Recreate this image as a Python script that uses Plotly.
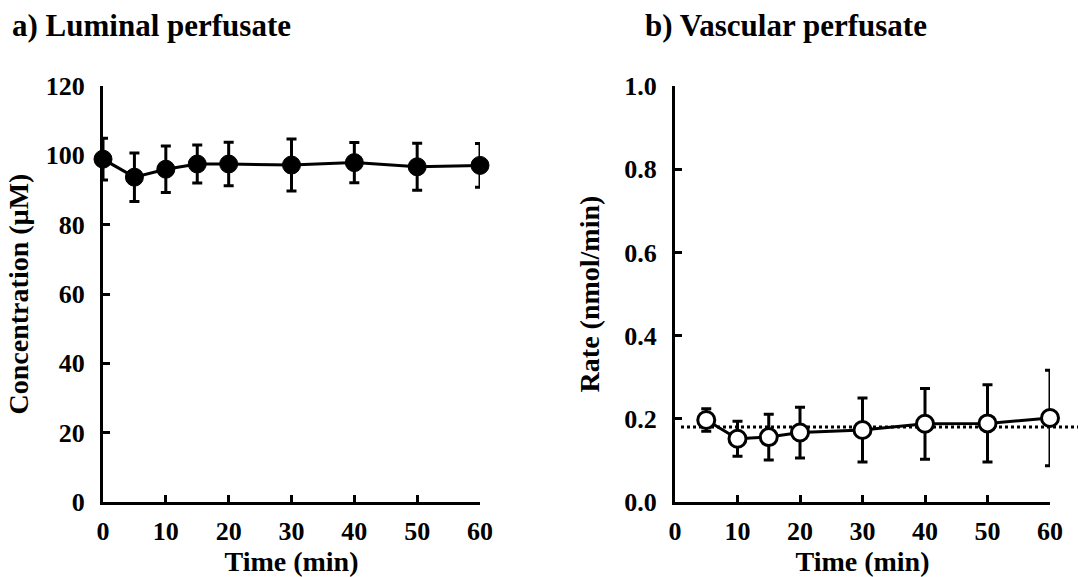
import plotly.graph_objects as go

# ---- data ----
time_lum = [0, 5, 10, 15, 20, 30, 40, 50, 60]
conc_lum = [98.9, 93.7, 96.0, 97.5, 97.5, 97.2, 97.9, 96.7, 97.1]
conc_err = [6.0, 7.0, 6.7, 5.5, 6.3, 7.5, 5.8, 6.8, 6.3]

time_vas = [5, 10, 15, 20, 30, 40, 50, 60]
rate_vas = [0.197, 0.152, 0.156, 0.167, 0.173, 0.188, 0.189, 0.202]
rate_err = [0.027, 0.042, 0.055, 0.061, 0.077, 0.085, 0.093, 0.115]
rate_ref = 0.18

x_ticks = [0, 10, 20, 30, 40, 50, 60]
y1_ticks = [0, 20, 40, 60, 80, 100, 120]
y2_ticks = [0.0, 0.2, 0.4, 0.6, 0.8, 1.0]
y2_labels = ["0.0", "0.2", "0.4", "0.6", "0.8", "1.0"]

W, H = 1078, 577
FONT = "Liberation Serif"

def px_x(a, b):
    return [a / W, b / W]

def px_y(top, bottom):
    return [(H - bottom) / H, (H - top) / H]

fig = go.Figure()

fig.add_trace(go.Scatter(
    x=time_lum, y=conc_lum, mode="lines+markers",
    line=dict(color="black", width=3),
    marker=dict(size=18, color="black", line=dict(color="black", width=1)),
    error_y=dict(type="data", array=conc_err, visible=True, color="black", thickness=3, width=5),
    cliponaxis=False, xaxis="x", yaxis="y", showlegend=False))

fig.add_trace(go.Scatter(
    x=time_vas, y=rate_vas, mode="lines+markers",
    line=dict(color="black", width=3),
    marker=dict(size=17, color="white", line=dict(color="black", width=3)),
    error_y=dict(type="data", array=rate_err, visible=True, color="black", thickness=3, width=5),
    cliponaxis=False, xaxis="x2", yaxis="y2", showlegend=False))

dom_y = px_y(86, 502)
dx1 = px_x(103, 480)
dx2 = px_x(675, 1050)

tickfont = dict(family=FONT, size=26, color="black", weight="bold")
titlefont = dict(family=FONT, size=28, color="black", weight="bold")

common_axis = dict(showline=True, linecolor="black", linewidth=3, ticks="inside",
                   ticklen=7, tickwidth=3, tickcolor="black", showgrid=False,
                   zeroline=False, tickfont=tickfont, mirror=False, automargin=False)

fig.update_layout(
    template="none",
    width=W, height=H, margin=dict(l=0, r=0, t=0, b=0, pad=0),
    plot_bgcolor="white", paper_bgcolor="white",
    xaxis=dict(domain=dx1, range=[0, 60], tickvals=x_ticks, anchor="y", ticklabelstandoff=4,
               title=dict(text="Time (min)", font=titlefont, standoff=6), **common_axis),
    yaxis=dict(domain=dom_y, range=[0, 120], tickvals=y1_ticks, anchor="x", ticklabelstandoff=10,
               title=dict(text="Concentration (µM)", font=titlefont, standoff=9), **common_axis),
    xaxis2=dict(domain=dx2, range=[0, 60], tickvals=x_ticks, anchor="y2", ticklabelstandoff=4,
                title=dict(text="Time (min)", font=titlefont, standoff=6), **common_axis),
    yaxis2=dict(domain=dom_y, range=[0, 1.0], tickvals=y2_ticks, ticktext=y2_labels, anchor="x2",
                ticklabelstandoff=10,
                title=dict(text="Rate (nmol/min)", font=titlefont, standoff=17), **common_axis),
)

# dotted reference line in vascular panel, running to the right edge
fig.add_shape(type="line", xref="paper", yref="y2",
              x0=681 / W, x1=1.0, y0=rate_ref, y1=rate_ref,
              line=dict(color="black", width=3, dash="dot"), layer="below")

fig.add_annotation(text="a) Luminal perfusate", xref="paper", yref="paper",
                   x=10 / W, y=(H - 26) / H, xanchor="left", yanchor="middle",
                   showarrow=False, font=dict(family=FONT, size=31, color="black", weight="bold"))
fig.add_annotation(text="b) Vascular perfusate", xref="paper", yref="paper",
                   x=643 / W, y=(H - 26) / H, xanchor="left", yanchor="middle",
                   showarrow=False, font=dict(family=FONT, size=31, color="black", weight="bold"))

fig.write_html("out.html")
